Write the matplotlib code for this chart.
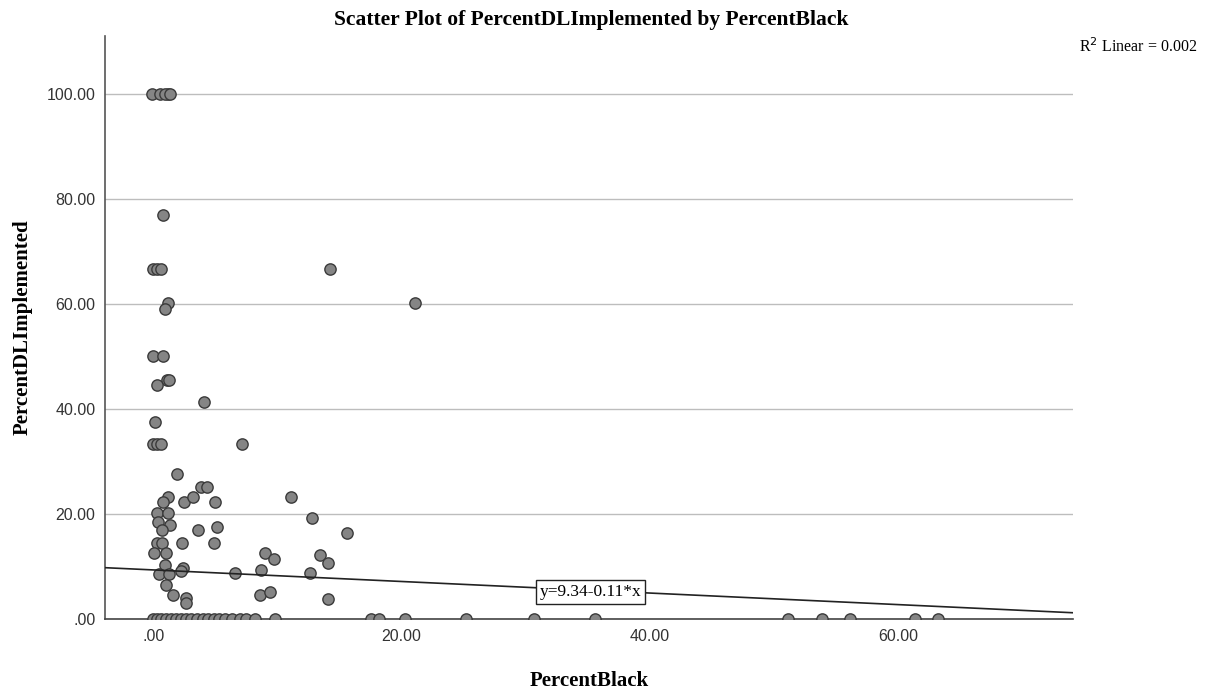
import numpy as np
import matplotlib.pyplot as plt

# PercentBlack (x) and PercentDLImplemented (y)
pct_black = [
    -0.1, 0.55, 1.2, 0.9, 1.3,
    0.75,
    0.0, 0.3, 0.6, 14.2,
    1.2, 0.9, 21.1,
    0.0, 0.8,
    1.1, 1.25, 0.3,
    4.1,
    0.1,
    0.0, 0.3, 0.65, 7.1,
    1.9,
    3.8, 4.3,
    1.2, 0.8, 2.5, 3.2, 5.0, 11.1,
    0.25, 1.2,
    0.35, 1.3, 0.7, 3.6, 5.1,
    12.8, 15.6,
    0.25, 0.7, 2.3, 4.9,
    0.03, 1.0, 9.0,
    13.4, 9.7, 14.1,
    0.9, 2.4, 2.2, 0.46, 1.23, 6.6, 8.7, 12.6,
    1.0, 1.6, 2.6, 2.6, 8.6, 9.4, 14.1,
    # zeros
    0.0, 0.3, 0.6, 1.0, 1.4, 1.8, 2.2, 2.6, 3.0, 3.5, 4.0, 4.4, 4.9,
    5.3, 5.8, 6.3, 7.0, 7.5, 8.2, 9.8,
    17.5, 18.2, 20.3, 25.2, 30.7, 35.6, 51.1, 53.9, 56.1, 61.4, 63.2,
]
pct_dl = [
    100, 100, 100, 100, 100,
    77,
    66.7, 66.7, 66.7, 66.7,
    60.2, 59, 60.2,
    50, 50,
    45.5, 45.5, 44.6,
    41.4,
    37.5,
    33.3, 33.3, 33.3, 33.3,
    27.7,
    25.1, 25.1,
    23.3, 22.3, 22.3, 23.2, 22.3, 23.2,
    20.2, 20.2,
    18.5, 17.9, 16.9, 16.9, 17.5,
    19.2, 16.3,
    14.4, 14.4, 14.4, 14.4,
    12.6, 12.6, 12.6,
    12.1, 11.4, 10.7,
    10.2, 9.8, 9.2, 8.5, 8.5, 8.8, 9.3, 8.8,
    6.4, 4.5, 4.0, 3.1, 4.5, 5.2, 3.8,
    0, 0, 0, 0, 0, 0, 0, 0, 0, 0, 0, 0, 0,
    0, 0, 0, 0, 0, 0, 0,
    0, 0, 0, 0, 0, 0, 0, 0, 0, 0, 0,
]

intercept = 9.34
slope = -0.11
r2 = 0.002

x_ticks = [0, 20, 40, 60]
y_ticks = [0, 20, 40, 60, 80, 100]

fig = plt.figure(figsize=(12.07, 6.92), dpi=100)
ax = fig.add_axes([0.087, 0.1055, 0.802, 0.8425])

xmin, xmax = -3.9, 74.1
ax.set_xlim(xmin, xmax)
ax.set_ylim(0, 111)

ax.yaxis.grid(True, color='#bdbdbd', linewidth=1.0)
ax.set_axisbelow(True)

ax.scatter(pct_black, pct_dl, s=66, color='#858585', edgecolor='#3a3a3a',
           linewidth=1.0, zorder=3)

xs = np.array([xmin, xmax])
ax.plot(xs, intercept + slope * xs, color='#222222', linewidth=1.2, zorder=4)

ax.text(35.2, 5.1, 'y=9.34-0.11*x', ha='center', va='center',
        family='Liberation Serif', fontsize=12.5, zorder=5,
        bbox=dict(boxstyle='square,pad=0.22', facecolor='white',
                  edgecolor='#222222', linewidth=1.0))

ax.set_xticks(x_ticks)
ax.set_xticklabels(['.00' if v == 0 else f'{v:.2f}' for v in x_ticks])
ax.set_yticks(y_ticks)
ax.set_yticklabels(['.00' if v == 0 else f'{v:.2f}' for v in y_ticks])
ax.tick_params(length=0, pad=7, labelsize=11.5, labelcolor='#333333')
for lab in ax.get_xticklabels() + ax.get_yticklabels():
    lab.set_family('Liberation Sans')

for side in ['top', 'right']:
    ax.spines[side].set_visible(False)
ax.spines['left'].set_color('#555555')
ax.spines['bottom'].set_color('#444444')
ax.spines['left'].set_linewidth(1.2)
ax.spines['bottom'].set_linewidth(1.2)

ax.set_xlabel('PercentBlack', family='Liberation Serif', fontweight='bold',
              fontsize=15, labelpad=20)
ax.set_ylabel('PercentDLImplemented', family='Liberation Serif',
              fontweight='bold', fontsize=15, labelpad=10)
fig.suptitle('Scatter Plot of PercentDLImplemented by PercentBlack',
             family='Liberation Serif', fontweight='bold', fontsize=15.5,
             x=0.49, y=0.985)

fig.text(0.992, 0.932, f'R$^2$ Linear = {r2:.3f}', ha='right', va='center',
         family='Liberation Serif', fontsize=11.5)

fig.savefig('out.png', dpi=100)
